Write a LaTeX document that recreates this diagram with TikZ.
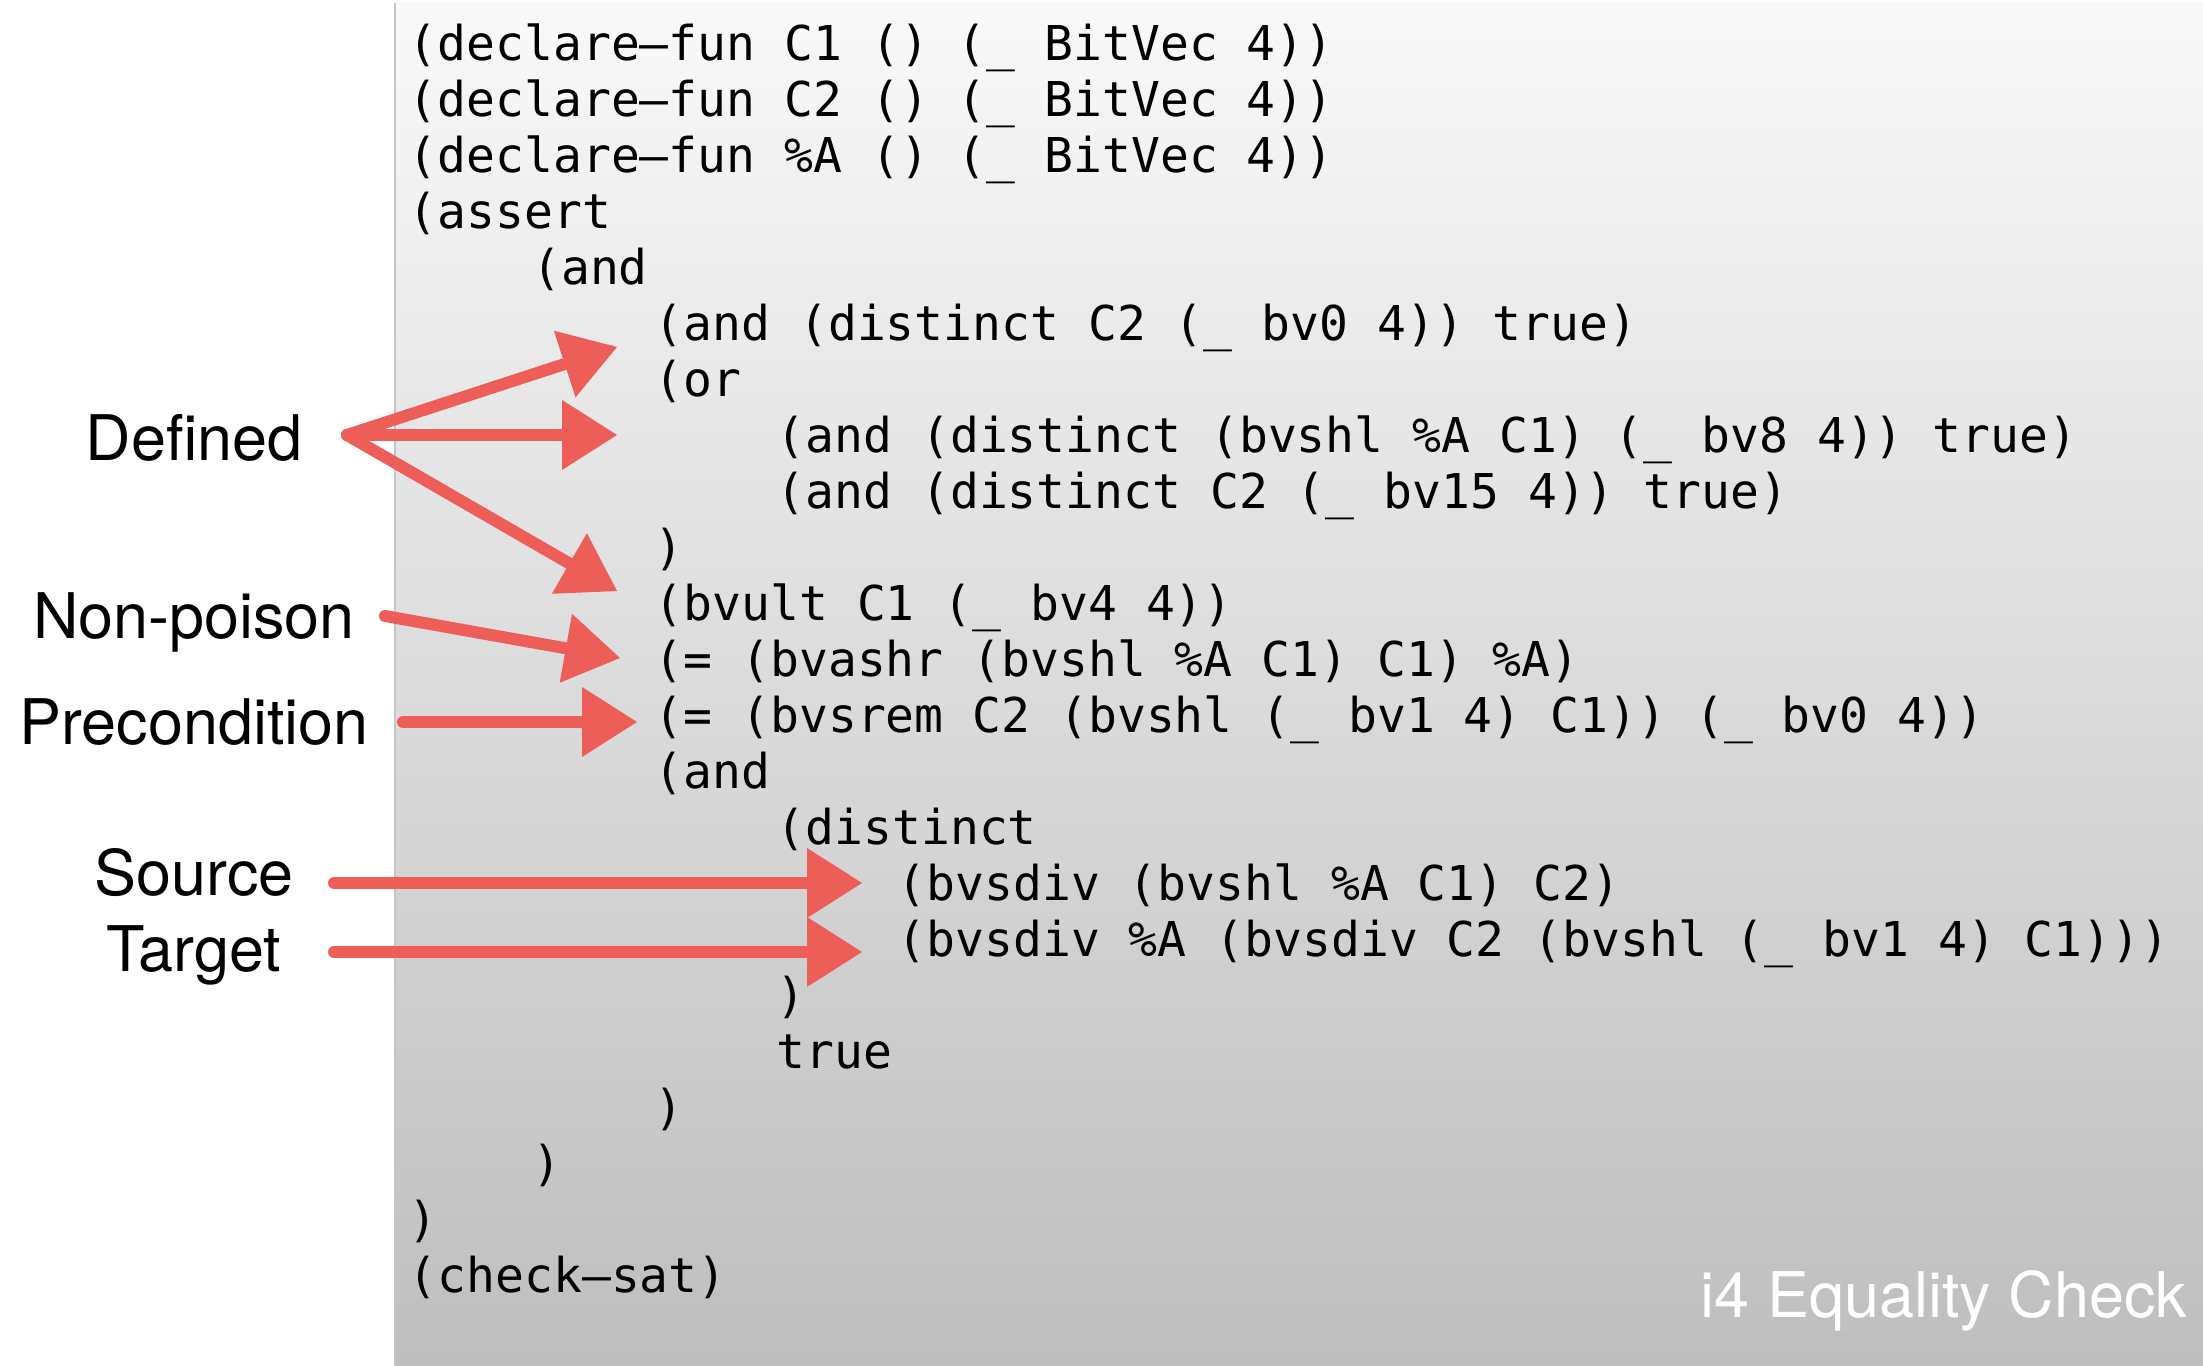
\documentclass[tikz,border=0pt]{standalone}
\usepackage{fontspec}
\setmainfont{TeX Gyre Heros}
\setmonofont{DejaVu Sans Mono}
\usetikzlibrary{arrows.meta}

\definecolor{chalk}{RGB}{237,94,89}
\definecolor{paneltop}{RGB}{249,249,249}
\definecolor{panelbot}{RGB}{190,190,190}

\tikzset{
  code/.style={anchor=base west, inner sep=0pt, font=\fontsize{13.66pt}{16pt}\selectfont\ttfamily},
  tag/.style={anchor=base, inner sep=0pt, font=\fontsize{17.9pt}{20pt}\selectfont},
  scribble/.style={draw=chalk, line width=3.4pt, line cap=round,
    -{Triangle[length=5.5mm,width=7mm,line width=0pt]}},
}

\begin{document}
\begin{tikzpicture}
    \useasboundingbox (0,0) rectangle (22.03,13.66);
    \fill[white] (0,0) rectangle (22.03,13.66);

    % the smt panel
    \shade[top color=paneltop, bottom color=panelbot] (3.95,0) rectangle (22.03,13.63);
    \draw[gray!45, line width=0.8pt] (3.95,0) -- (3.95,13.63);

    \node[code] (c1) at(4.08,13.053) {(declare–fun C1 () (\_ BitVec 4))};
    \node[code] (c2) at(4.08,12.493) {(declare–fun C2 () (\_ BitVec 4))};
    \node[code] (c3) at(4.08,11.933) {(declare–fun \%A () (\_ BitVec 4))};
    \node[code] (c4) at(4.08,11.373) {(assert};
    \node[code] (c5) at(5.315,10.813) {(and};
    \node[code] (c6) at(6.54,10.253) {(and (distinct C2 (\_ bv0 4)) true)};
    \node[code] (c7) at(6.54,9.693) {(or};
    \node[code] (c8) at(7.76,9.133) {(and (distinct (bvshl \%A C1) (\_ bv8 4)) true)};
    \node[code] (c9) at(7.76,8.573) {(and (distinct C2 (\_ bv15 4)) true)};
    \node[code] (c10) at(6.54,8.013) {)};
    \node[code] (c11) at(6.54,7.453) {(bvult C1 (\_ bv4 4))};
    \node[code] (c12) at(6.54,6.893) {(= (bvashr (bvshl \%A C1) C1) \%A)};
    \node[code] (c13) at(6.54,6.333) {(= (bvsrem C2 (bvshl (\_ bv1 4) C1)) (\_ bv0 4))};
    \node[code] (c14) at(6.54,5.773) {(and};
    \node[code] (c15) at(7.76,5.213) {(distinct};
    \node[code] (c16) at(8.97,4.653) {(bvsdiv (bvshl \%A C1) C2)};
    \node[code] (c17) at(8.97,4.093) {(bvsdiv \%A (bvsdiv C2 (bvshl (\_ bv1 4) C1)))};
    \node[code] (c18) at(7.76,3.533) {)};
    \node[code] (c19) at(7.76,2.973) {true};
    \node[code] (c20) at(6.54,2.413) {)};
    \node[code] (c21) at(5.315,1.853) {)};
    \node[code] (c22) at(4.08,1.293) {)};
    \node[code] (c23) at(4.08,0.733) {(check–sat)};

    \node[tag, anchor=base east, white] (title) at(21.88,0.48) {i4 Equality Check};

    % labels on the left
    \node[tag] (defined) at(1.94,9.05) {Defined};
    \node[tag] (nonpoison) at(1.94,7.27) {Non-poison};
    \node[tag] (precond) at(1.94,6.21) {Precondition};
    \node[tag] (source) at(1.94,4.70) {Source};
    \node[tag] (target) at(1.94,3.94) {Target};

    % arrow ends
    \coordinate (defsrc) at(3.47,9.31);
    \coordinate (deftipa) at(6.17,10.19);
    \coordinate (deftipb) at(6.17,9.31);
    \coordinate (deftipc) at(6.17,7.75);
    \coordinate (npsrc) at(3.85,7.50);
    \coordinate (nptip) at(6.20,7.08);
    \coordinate (presrc) at(4.03,6.44);
    \coordinate (pretip) at(6.37,6.44);
    \coordinate (srcsrc) at(3.34,4.83);
    \coordinate (srctip) at(8.62,4.83);
    \coordinate (tgtsrc) at(3.34,4.14);
    \coordinate (tgttip) at(8.62,4.14);

    \draw[scribble] (defsrc) -- (deftipa);
    \draw[scribble] (defsrc) -- (deftipb);
    \draw[scribble] (defsrc) -- (deftipc);
    \draw[scribble] (npsrc) -- (nptip);
    \draw[scribble] (presrc) -- (pretip);
    \draw[scribble] (srcsrc) -- (srctip);
    \draw[scribble] (tgtsrc) -- (tgttip);
\end{tikzpicture}
\end{document}
